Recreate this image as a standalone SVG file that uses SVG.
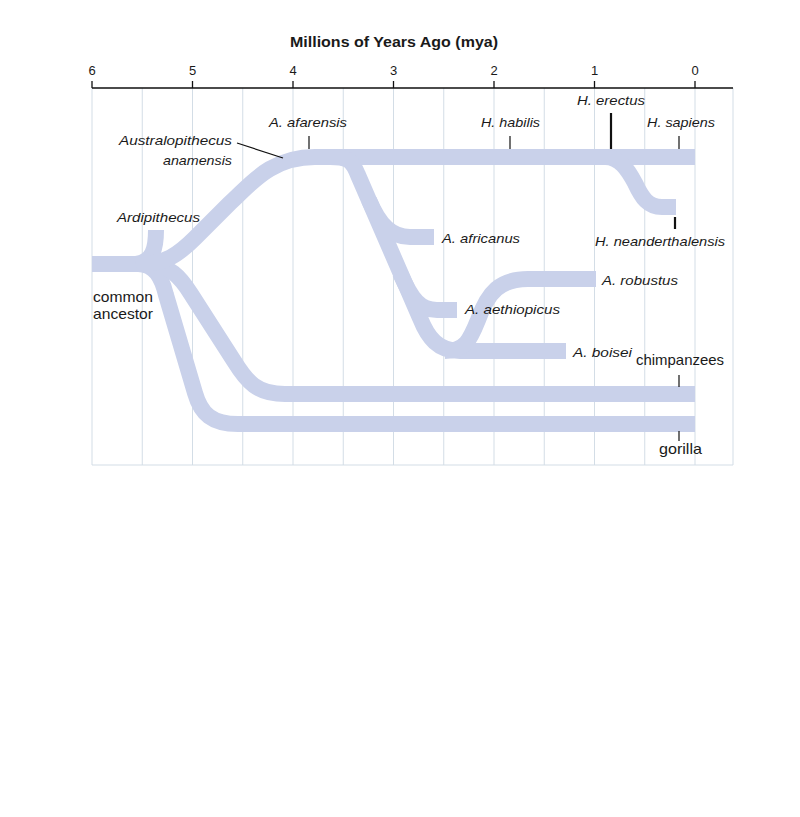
<svg xmlns="http://www.w3.org/2000/svg" width="800" height="817" viewBox="0 0 800 817">
<style>
.grid{stroke:#d3dde6;stroke-width:1;fill:none}
.axis{stroke:#111;stroke-width:1.3;fill:none}
.br{stroke:#c9d1ea;stroke-width:16;fill:none;stroke-linecap:butt;stroke-linejoin:round}
.lead{stroke:#111;stroke-width:1.2;fill:none}
.leadb{stroke:#111;stroke-width:2.2;fill:none}
text{font-family:"Liberation Sans",Arial,sans-serif;fill:#1a1a1a}
.tick{font-size:13px;text-anchor:middle}
.title{font-size:15px;font-weight:bold;text-anchor:middle}
.sp{font-size:13.5px;font-style:italic}
.nm{font-size:14.5px}
</style>
<rect width="800" height="817" fill="#fff"/>
<g id="grid">
<path class="grid" d="M92,88V465M142.25,88V465M192.5,88V465M242.75,88V465M293,88V465M343.25,88V465M393.5,88V465M443.75,88V465M494,88V465M544.25,88V465M594.5,88V465M644.75,88V465M695,88V465M733,88V465M92,465H733"/>
</g>
<g id="axis">
<path class="axis" d="M92,88H733M92,81V88M192.5,81V88M293,81V88M393.5,81V88M494,81V88M594.5,81V88M695,81V88"/>
<text class="tick" x="92" y="75">6</text>
<text class="tick" x="192.5" y="75">5</text>
<text class="tick" x="293" y="75">4</text>
<text class="tick" x="393.5" y="75">3</text>
<text class="tick" x="494" y="75">2</text>
<text class="tick" x="594.5" y="75">1</text>
<text class="tick" x="695" y="75">0</text>
<text class="title" x="394" y="47" textLength="208" lengthAdjust="spacingAndGlyphs">Millions of Years Ago (mya)</text>
</g>
<g id="connectors">
<path id="gorilla-branch" class="br" d="M92,264H138C155,264 162,278 166,295L195,393C201,414 212,424 238,424H695"/>
<path id="chimp-branch" class="br" d="M145,264C170,264 181,278 191,294L234,361C247,382 257,394 285,394H695"/>
<path id="ardipithecus-branch" class="br" d="M156,230C156,248 153,262 136,264"/>
<path id="trunk" class="br" d="M140,264C165,264 178,255 195,238L230,203C250,185 270,157 315,157H695"/>
<path id="descent" class="br" d="M330,157C348,157 352,160 358,175L420,318C428,338 438,351 460,351H566"/>
<path id="africanus-branch" class="br" d="M369,200C380,226 392,237 410,237H434"/>
<path id="aethiopicus-branch" class="br" d="M400,273C412,300 420,310 437,310H457"/>
<path id="robustus-branch" class="br" d="M445,351C465,351 470,340 478,320C488,292 500,279 528,279H596"/>
<path id="neanderthal-branch" class="br" d="M605,157C620,157 628,170 635,183C642,198 648,207 662,207H676"/>
<path class="lead" d="M237,143L283,158"/>
<path class="lead" d="M309,136V149"/>
<path class="lead" d="M510,136V149"/>
<path class="leadb" d="M611,113V149"/>
<path class="lead" d="M679,136V149"/>
<path class="leadb" d="M675,217V229"/>
<path class="lead" d="M679,375V387"/>
<path class="lead" d="M679,431V441"/>
</g>
<g id="n-anamensis"><text class="sp" x="119" y="145" textLength="113" lengthAdjust="spacingAndGlyphs">Australopithecus</text><text class="sp" x="163" y="165" textLength="69" lengthAdjust="spacingAndGlyphs">anamensis</text></g>
<g id="n-afarensis"><text class="sp" x="269" y="127" textLength="78" lengthAdjust="spacingAndGlyphs">A. afarensis</text></g>
<g id="n-habilis"><text class="sp" x="481" y="127" textLength="59" lengthAdjust="spacingAndGlyphs">H. habilis</text></g>
<g id="n-erectus"><text class="sp" x="577" y="105" textLength="68" lengthAdjust="spacingAndGlyphs">H. erectus</text></g>
<g id="n-sapiens"><text class="sp" x="647" y="127" textLength="68" lengthAdjust="spacingAndGlyphs">H. sapiens</text></g>
<g id="n-ardipithecus"><text class="sp" x="117" y="222" textLength="83" lengthAdjust="spacingAndGlyphs">Ardipithecus</text></g>
<g id="n-common"><text class="nm" x="93" y="302" textLength="60" lengthAdjust="spacingAndGlyphs">common</text><text class="nm" x="93" y="319" textLength="60" lengthAdjust="spacingAndGlyphs">ancestor</text></g>
<g id="n-africanus"><text class="sp" x="442" y="243" textLength="78" lengthAdjust="spacingAndGlyphs">A. africanus</text></g>
<g id="n-neanderthalensis"><text class="sp" x="595" y="246" textLength="130" lengthAdjust="spacingAndGlyphs">H. neanderthalensis</text></g>
<g id="n-robustus"><text class="sp" x="602" y="285" textLength="76" lengthAdjust="spacingAndGlyphs">A. robustus</text></g>
<g id="n-aethiopicus"><text class="sp" x="465" y="314" textLength="95" lengthAdjust="spacingAndGlyphs">A. aethiopicus</text></g>
<g id="n-boisei"><text class="sp" x="573" y="357" textLength="59" lengthAdjust="spacingAndGlyphs">A. boisei</text></g>
<g id="n-chimpanzees"><text class="nm" x="636" y="365" textLength="88" lengthAdjust="spacingAndGlyphs">chimpanzees</text></g>
<g id="n-gorilla"><text class="nm" x="659" y="454" textLength="43" lengthAdjust="spacingAndGlyphs">gorilla</text></g>
</svg>
